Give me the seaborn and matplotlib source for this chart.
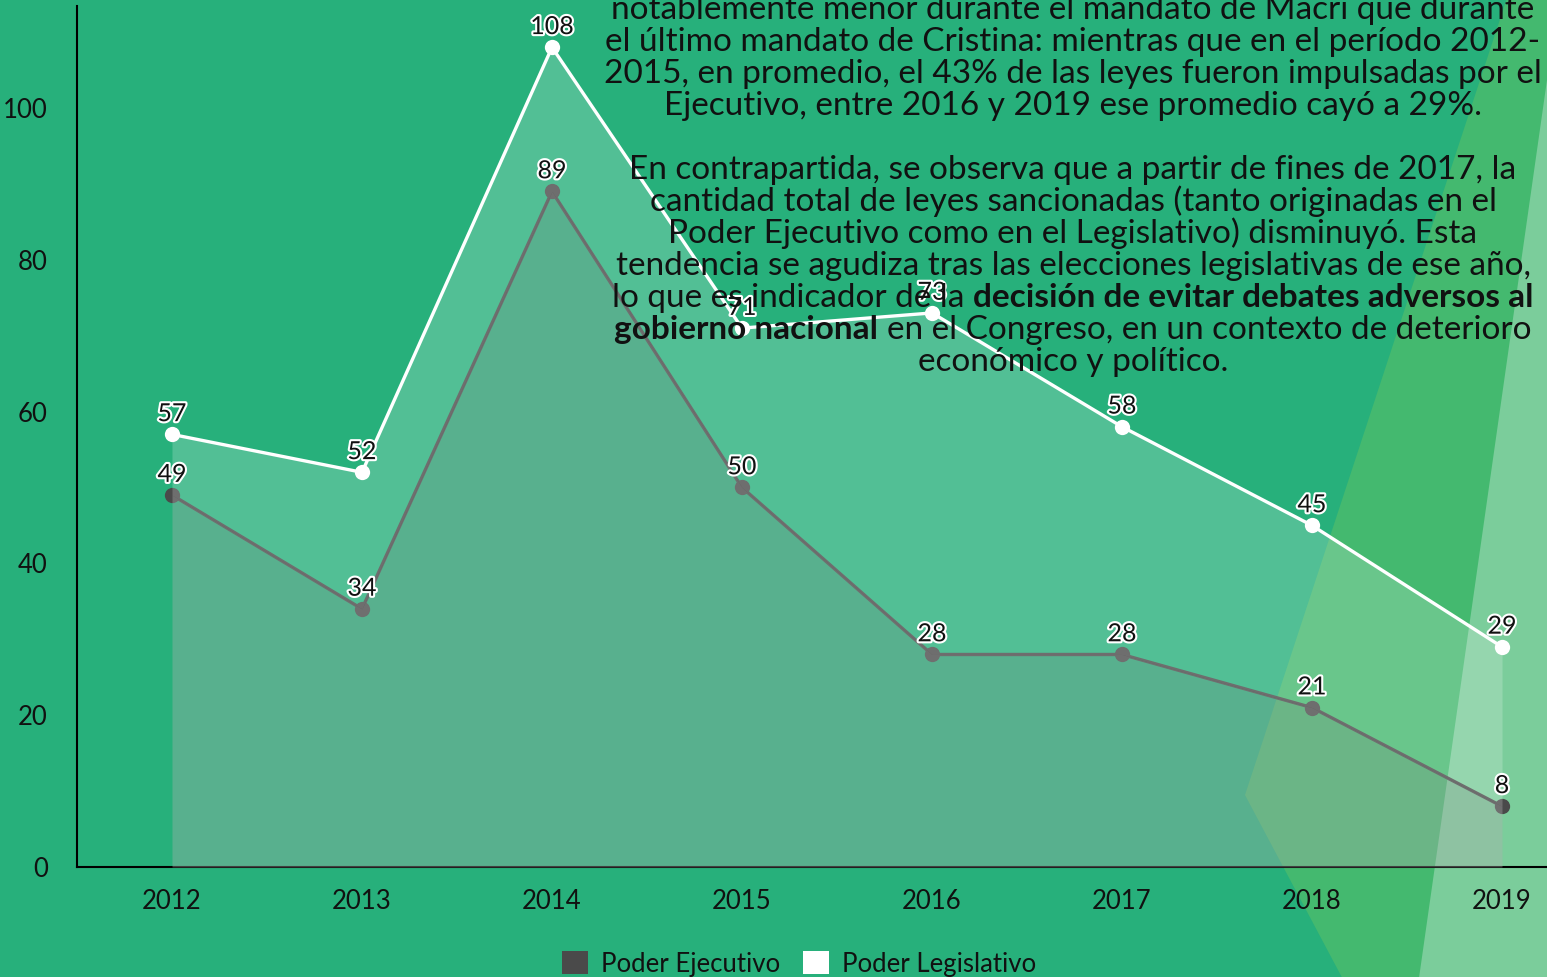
import numpy as np
import pandas as pd
import seaborn as sns
import matplotlib
matplotlib.use("Agg")
import matplotlib.pyplot as plt
from matplotlib.patches import Polygon, Patch
import matplotlib.patheffects as pe

# ---------------- data ----------------
years = [2012, 2013, 2014, 2015, 2016, 2017, 2018, 2019]
ejecutivo = [49, 34, 89, 50, 28, 28, 21, 8]
legislativo = [57, 52, 108, 71, 73, 58, 45, 29]
y_ticks = [0, 20, 40, 60, 80, 100]
legend_labels = ["Poder Ejecutivo", "Poder Legislativo"]

text_lines = [
    [("notablemente menor durante el mandato de Macri que durante", "normal")],
    [("el último mandato de Cristina: mientras que en el período 2012-", "normal")],
    [("2015, en promedio, el 43% de las leyes fueron impulsadas por el", "normal")],
    [("Ejecutivo, entre 2016 y 2019 ese promedio cayó a 29%.", "normal")],
    [("En contrapartida, se observa que a partir de fines de 2017, la", "normal")],
    [("cantidad total de leyes sancionadas (tanto originadas en el", "normal")],
    [("Poder Ejecutivo como en el Legislativo) disminuyó. Esta", "normal")],
    [("tendencia se agudiza tras las elecciones legislativas de ese año,", "normal")],
    [("lo que es indicador de la", "normal"), ("decisión de evitar debates adversos al", "bold")],
    [("gobierno nacional", "bold"), ("en el Congreso, en un contexto de deterioro", "normal")],
    [("económico y político.", "normal")],
]
line_baselines_px = [19, 51, 83, 115, 179, 211, 243, 275, 307, 339, 371]

# ---------------- figure ----------------
W, H = 1547, 977
sns.set_theme(style="white")
plt.rcParams["font.family"] = ["Lato", "DejaVu Sans"]
plt.rcParams["text.color"] = "#111111"
plt.rcParams["xtick.color"] = "#111111"
plt.rcParams["ytick.color"] = "#111111"

BG = "#27b07b"
fig = plt.figure(figsize=(W / 100, H / 100), dpi=100)
fig.patch.set_facecolor(BG)


def P(pts):
    return [(x / W, 1 - y / H) for x, y in pts]


fig.patches.append(Polygon(P([(1508, -5), (1245, 795), (1346, 985), (1560, 985), (1560, -5)]),
                           closed=True, transform=fig.transFigure, facecolor="#44b96f",
                           edgecolor="none", zorder=-2))
fig.patches.append(Polygon(P([(1560, 75), (1547, 80), (1418, 985), (1560, 985)]),
                           closed=True, transform=fig.transFigure, facecolor="#7bcd9b",
                           edgecolor="none", zorder=-1))

px_per_unit = 7.59
ax = fig.add_axes([77 / W, (H - 867) / H, 1520 / W, 861 / H])
ax.patch.set_alpha(0)
ax.set_xlim(2011.5, 2019.5)
ax.set_ylim(0, 861 / px_per_unit)

# fills (drawn on top of the lines, semi-transparent)
ax.fill_between(years, ejecutivo, legislativo, color="white", alpha=0.2, lw=0, zorder=3)
ax.fill_between(years, 0, ejecutivo, color="#b0b0b0", alpha=0.365, lw=0, zorder=3)

sns.lineplot(x=years, y=legislativo, color="white", lw=2.4, marker="o", markersize=11,
             markeredgewidth=0, ax=ax, zorder=2)
sns.lineplot(x=years, y=ejecutivo, color="#4a4a4a", lw=2.4, marker="o", markersize=11,
             markeredgewidth=0, ax=ax, zorder=2)

stroke = [pe.withStroke(linewidth=3, foreground="white")]
for series in (legislativo, ejecutivo):
    for x, v in zip(years, series):
        ax.annotate(str(v), (x, v), xytext=(0, 9.5), textcoords="offset points",
                    ha="center", va="baseline", fontsize=18, color="#111111",
                    path_effects=stroke, zorder=6)

sns.despine(ax=ax, top=True, right=True)
for s in ("left", "bottom"):
    ax.spines[s].set_color("black")
    ax.spines[s].set_linewidth(1.5)
ax.set_yticks(y_ticks)
ax.set_xticks(years)
ax.set_xticklabels([str(y) for y in years])
ax.tick_params(axis="y", length=0, pad=21, labelsize=18.5)
ax.tick_params(axis="x", length=0, pad=16, labelsize=18.5)
ax.set_xlabel("")
ax.set_ylabel("")
ax.grid(False)

# legend
handles = [Patch(facecolor="#4a4a4a", edgecolor="none"), Patch(facecolor="white", edgecolor="none")]
fig.legend(handles=handles, labels=legend_labels, loc="center",
           bbox_to_anchor=(799 / W, (H - 964) / H), ncol=2, frameon=False, fontsize=18.5,
           handlelength=1.0, handleheight=1.0, handletextpad=0.5, columnspacing=0.9)

# text overlay
renderer = fig.canvas.get_renderer()
center_x = 1073
fs = 20


def measure(s, weight, size):
    t = fig.text(0, 0, s, fontsize=size, fontweight=weight)
    w = t.get_window_extent(renderer).width
    t.remove()
    return w


ref_w = measure(text_lines[2][0][0], "normal", fs)
fs = fs * 941 / ref_w
space_w = measure("x x", "normal", fs) - measure("xx", "normal", fs)

for segs, base in zip(text_lines, line_baselines_px):
    widths = [measure(s, w, fs) for s, w in segs]
    total = sum(widths) + space_w * (len(segs) - 1)
    x = center_x - total / 2
    for (s, w), wd in zip(segs, widths):
        fig.text(x / W, 1 - base / H, s, fontsize=fs, fontweight=w, ha="left",
                 va="baseline", color="#111111", zorder=10)
        x += wd + space_w

fig.savefig("out.png", dpi=100, facecolor=BG)
